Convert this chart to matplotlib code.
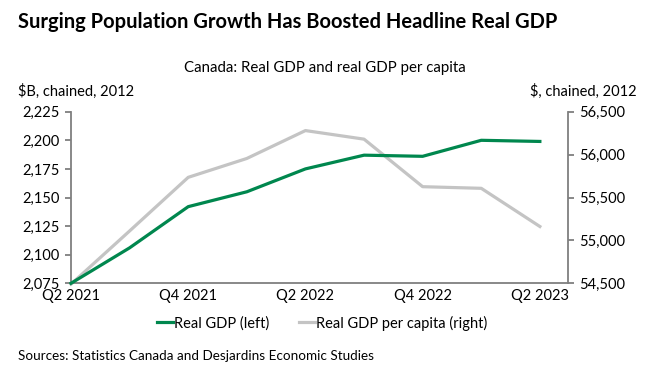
import matplotlib.pyplot as plt
from matplotlib.ticker import FuncFormatter

plt.rcParams['font.family'] = ['Lato', 'DejaVu Sans']

quarters = ['Q2 2021', 'Q3 2021', 'Q4 2021', 'Q1 2022', 'Q2 2022',
            'Q3 2022', 'Q4 2022', 'Q1 2023', 'Q2 2023']
real_gdp = [2075, 2106, 2142, 2155, 2175, 2187, 2186, 2200, 2199]
gdp_per_capita = [54490, 55110, 55735, 55955, 56280, 56180, 55626, 55607, 55162]
tick_labels = ['Q2 2021', 'Q4 2021', 'Q2 2022', 'Q4 2022', 'Q2 2023']

green = '#00874e'
grey = '#c4c4c4'
spine_col = '#7f7f7f'

fig = plt.figure(figsize=(6.48, 3.82), dpi=100)
ax = fig.add_axes([71 / 648, 1 - 283.3 / 382, 497 / 648, 171.6 / 382])
ax2 = ax.twinx()

x = list(range(len(quarters)))
ax2.plot(x, gdp_per_capita, color=grey, lw=2.3, clip_on=False, zorder=2)
ax.plot(x, real_gdp, color=green, lw=2.3, clip_on=False, zorder=3)
ax.set_zorder(ax2.get_zorder() + 1)
ax.patch.set_visible(False)

ax.set_xlim(0, 8.48)
ax.set_ylim(2075, 2225)
ax.set_yticks(range(2075, 2226, 25))
ax2.set_ylim(54500, 56500)
ax2.set_yticks(range(54500, 56501, 500))
fmt = FuncFormatter(lambda v, p: f'{int(v):,}')
ax.yaxis.set_major_formatter(fmt)
ax2.yaxis.set_major_formatter(fmt)
ax.set_xticks([x[i] for i in range(0, len(quarters), 2)])
ax.set_xticklabels(tick_labels)

for a in (ax, ax2):
    a.spines['top'].set_visible(False)
    for s in ('left', 'right', 'bottom'):
        a.spines[s].set_color(spine_col)
        a.spines[s].set_linewidth(1.3)
    a.tick_params(axis='y', colors=spine_col, length=4, width=1.3,
                  labelsize=10.5, labelcolor='black', pad=4)
ax.spines['right'].set_visible(False)
ax2.spines['left'].set_visible(False)
ax2.spines['bottom'].set_visible(False)
ax.tick_params(axis='x', length=0, labelsize=10.5, pad=4)

fig.text(18 / 648, 1 - 22 / 382, 'Surging Population Growth Has Boosted Headline Real GDP',
         fontsize=14.5, fontweight='bold', va='center', ha='left')
fig.text(325 / 648, 1 - 68 / 382, 'Canada: Real GDP and real GDP per capita',
         fontsize=10.8, va='center', ha='center')
fig.text(18 / 648, 1 - 91 / 382, '$B, chained, 2012', fontsize=10.5, va='center', ha='left')
fig.text(637 / 648, 1 - 91 / 382, '$, chained, 2012', fontsize=10.5, va='center', ha='right')
fig.text(18 / 648, 1 - 356 / 382, 'Sources: Statistics Canada and Desjardins Economic Studies',
         fontsize=9.7, va='center', ha='left')

h1, = ax.plot([], [], color=green, lw=2.3)
h2, = ax.plot([], [], color=grey, lw=2.3)
fig.legend([h1, h2], ['Real GDP (left)', 'Real GDP per capita (right)'],
           loc='center', bbox_to_anchor=(322 / 648, 1 - 323 / 382), ncol=2,
           frameon=False, fontsize=10.5, handlelength=1.1, handletextpad=0.1,
           columnspacing=2.0)

fig.savefig('out.png', dpi=100)
